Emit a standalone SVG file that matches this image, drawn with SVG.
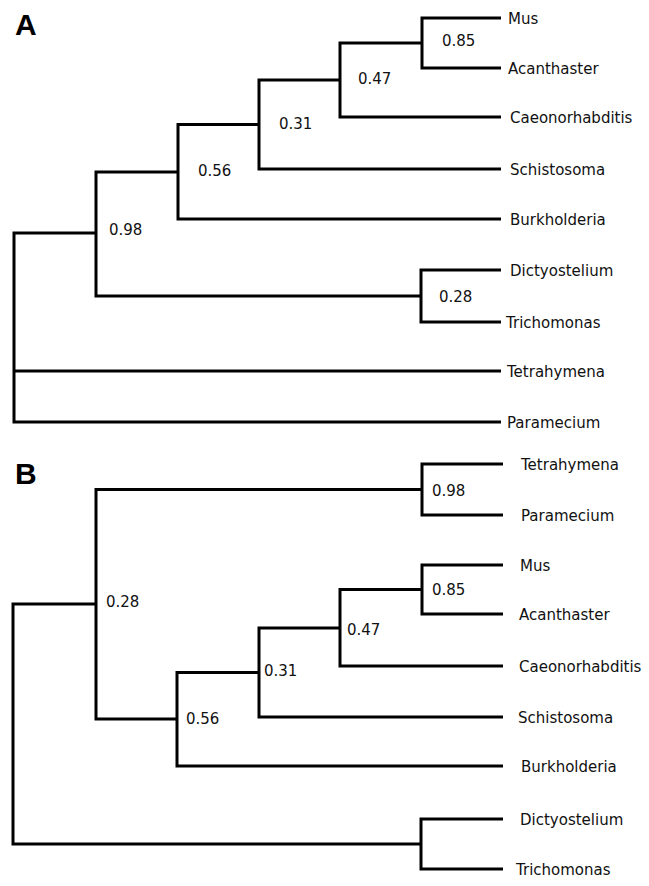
<svg xmlns="http://www.w3.org/2000/svg" width="649" height="886" viewBox="0 0 649 886">
<style>
.e{fill:none;stroke:#000;stroke-width:3;stroke-linejoin:miter;stroke-linecap:butt}
.t{font-family:"DejaVu Sans",Verdana,sans-serif;font-size:15px;fill:#111}
.p{font-family:"Liberation Sans",Arial,sans-serif;font-size:30px;font-weight:bold;fill:#000}
</style>
<rect width="649" height="886" fill="#fff"/>
<text class="p" x="15" y="35">A</text>
<text class="p" x="15" y="484">B</text>
<g id="connectors">
<path class="e" d="M501,18 H422 V68 H501"/>
<path class="e" d="M422,43 H340 V117 H501"/>
<path class="e" d="M340,80 H259 V169 H501"/>
<path class="e" d="M259,124.5 H178 V219 H501"/>
<path class="e" d="M501,270 H421 V322 H501"/>
<path class="e" d="M178,172 H96 V296 H421"/>
<path class="e" d="M96,233 H14 V422 H501"/>
<path class="e" d="M14,371 H501"/>
<path class="e" d="M503,464 H422 V515 H503"/>
<path class="e" d="M503,565 H422 V614 H503"/>
<path class="e" d="M422,589.5 H340 V666 H503"/>
<path class="e" d="M340,628 H259 V717 H503"/>
<path class="e" d="M259,672.5 H177 V766 H503"/>
<path class="e" d="M422,489.5 H96 V719 H177"/>
<path class="e" d="M503,819 H421 V869 H503"/>
<path class="e" d="M96,604 H13 V844 H421"/>
</g>
<g id="A-Mus"><text class="t" x="508" y="23.5">Mus</text></g>
<g id="A-Acanthaster"><text class="t" x="508" y="73.5">Acanthaster</text></g>
<g id="A-Caeonorhabditis"><text class="t" x="510" y="122.5">Caeonorhabditis</text></g>
<g id="A-Schistosoma"><text class="t" x="510" y="174.5">Schistosoma</text></g>
<g id="A-Burkholderia"><text class="t" x="510" y="224.5">Burkholderia</text></g>
<g id="A-Dictyostelium"><text class="t" x="510" y="275.5">Dictyostelium</text></g>
<g id="A-Trichomonas"><text class="t" x="506" y="327.5">Trichomonas</text></g>
<g id="A-Tetrahymena"><text class="t" x="507" y="376.5">Tetrahymena</text></g>
<g id="A-Paramecium"><text class="t" x="507" y="427.5">Paramecium</text></g>
<g id="A-n085"><text class="t" x="442" y="46">0.85</text></g>
<g id="A-n047"><text class="t" x="358" y="84">0.47</text></g>
<g id="A-n031"><text class="t" x="279" y="129">0.31</text></g>
<g id="A-n056"><text class="t" x="198" y="176">0.56</text></g>
<g id="A-n098"><text class="t" x="109" y="235">0.98</text></g>
<g id="A-n028"><text class="t" x="439" y="302">0.28</text></g>
<g id="B-Tetrahymena"><text class="t" x="521" y="469.5">Tetrahymena</text></g>
<g id="B-Paramecium"><text class="t" x="521" y="520.5">Paramecium</text></g>
<g id="B-Mus"><text class="t" x="520" y="570.5">Mus</text></g>
<g id="B-Acanthaster"><text class="t" x="519" y="619.5">Acanthaster</text></g>
<g id="B-Caeonorhabditis"><text class="t" x="519" y="671.5">Caeonorhabditis</text></g>
<g id="B-Schistosoma"><text class="t" x="518" y="722.5">Schistosoma</text></g>
<g id="B-Burkholderia"><text class="t" x="521" y="771.5">Burkholderia</text></g>
<g id="B-Dictyostelium"><text class="t" x="520" y="824.5">Dictyostelium</text></g>
<g id="B-Trichomonas"><text class="t" x="516" y="874.5">Trichomonas</text></g>
<g id="B-n098"><text class="t" x="432" y="496">0.98</text></g>
<g id="B-n085"><text class="t" x="432" y="595">0.85</text></g>
<g id="B-n047"><text class="t" x="347" y="635">0.47</text></g>
<g id="B-n031"><text class="t" x="264" y="676">0.31</text></g>
<g id="B-n056"><text class="t" x="186" y="724">0.56</text></g>
<g id="B-n028"><text class="t" x="106" y="607">0.28</text></g>
</svg>
